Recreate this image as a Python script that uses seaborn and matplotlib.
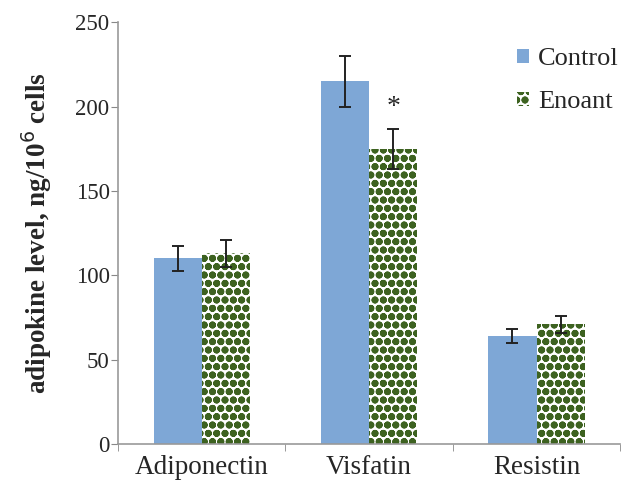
import matplotlib
matplotlib.use("Agg")
import matplotlib.pyplot as plt
import seaborn as sns
import pandas as pd
import numpy as np

categories = ["Adiponectin", "Visfatin", "Resistin"]
groups = ["Control", "Enoant"]
control_vals = [110, 215, 64]
control_err = [7.5, 15, 4]
enoant_vals = [113, 175, 71]
enoant_err = [8, 12, 5]
y_ticks = [0, 50, 100, 150, 200, 250]

sns.set_style("white")
plt.rcParams['font.family'] = ['Liberation Serif', 'DejaVu Serif']
plt.rcParams['hatch.linewidth'] = 2.6

df = pd.DataFrame({
    "category": categories * 2,
    "group": [groups[0]] * 3 + [groups[1]] * 3,
    "value": control_vals + enoant_vals,
})
errs = {groups[0]: control_err, groups[1]: enoant_err}

fig = plt.figure(figsize=(6.24, 4.91), dpi=100)
ax = fig.add_axes([0.189, 0.0957, 0.805, 0.859])

sns.barplot(data=df, x="category", y="value", hue="group", order=categories,
            hue_order=groups, palette=["#7ea7d6", "white"], errorbar=None,
            width=0.575, ax=ax, saturation=1)

green = "#3d6220"
bar_conts = list(ax.containers)
for ci, cont in enumerate(bar_conts):
    g = groups[ci]
    for bi, bar in enumerate(cont):
        bar.set_linewidth(0)
        if g == "Enoant":
            bar.set_facecolor("white")
            bar.set_edgecolor(green)
            bar.set_hatch("oo")
        cx = bar.get_x() + bar.get_width() / 2
        ax.errorbar(cx, bar.get_height(), yerr=errs[g][bi], color="#222222",
                    capsize=4, elinewidth=1.4, capthick=1.4, fmt="none", zorder=5)

# asterisk above Visfatin Enoant
vis_bar = bar_conts[1][1]
ax.text(vis_bar.get_x() + vis_bar.get_width() / 2, enoant_vals[1] + enoant_err[1] + 5, "*",
        ha="center", va="bottom", fontsize=20)

ax.set_xlim(-0.5, 2.5)
ax.set_ylim(0, 250)
ax.set_yticks(y_ticks)
ax.set_xticks([-0.5, 0.5, 1.5, 2.5], minor=True)
ax.tick_params(axis="y", labelsize=16.5, length=5, color="#888888", direction="out", left=True, pad=1)
ax.tick_params(axis="x", which="major", labelsize=19.5, length=0, pad=8)
ax.tick_params(axis="x", which="minor", length=5, color="#888888", direction="out", bottom=True)
ax.set_xlabel("")
ax.set_ylabel("adipokine level, ng/10$^{6}$ cells", fontsize=19.5, fontweight="bold")
ax.yaxis.set_label_coords(-0.128, 0.5)
for s in ["top", "right"]:
    ax.spines[s].set_visible(False)
for s in ["left", "bottom"]:
    ax.spines[s].set_color("#999999")
    ax.spines[s].set_linewidth(1.2)

leg = ax.legend(loc="upper right", bbox_to_anchor=(1.045, 0.995), frameon=False, fontsize=19,
                handlelength=0.45, handleheight=0.45, handletextpad=0.35, labelspacing=0.8)
leg.legend_handles[1].set_edgecolor(green)
leg.legend_handles[1].set_hatch("oo")
leg.legend_handles[1].set_facecolor("white")
leg.legend_handles[0].set_linewidth(0)
leg.legend_handles[1].set_linewidth(0)

fig.savefig("out.png", dpi=100)
